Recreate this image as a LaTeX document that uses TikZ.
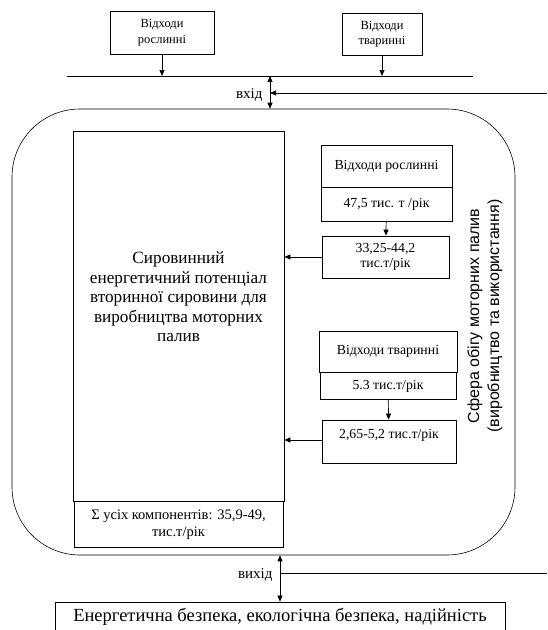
\documentclass[tikz,border=0pt]{standalone}
\usepackage{fontspec}
\setmainfont{Liberation Serif}
\newfontfamily\sphfont{Liberation Sans}
\usetikzlibrary{arrows.meta, positioning}

\begin{document}
\begin{tikzpicture}[
        x=1pt, y=-1pt,
        node distance=0pt,
        srcbox/.style={rectangle, draw, fill=white, align=center, inner sep=0pt,
                       line width=0.8pt, font=\fontsize{12.5}{15.5}\selectfont},
        valbox/.style={rectangle, draw, fill=white, align=center, inner sep=0pt,
                       line width=0.8pt, font=\fontsize{13.8}{15}\selectfont},
        bigbox/.style={rectangle, draw, fill=white, align=center, inner sep=0pt,
                       line width=0.8pt},
        flowlabel/.style={anchor=east, font=\fontsize{15}{17}\selectfont},
        arrow/.style={-{Triangle[length=6pt, width=5pt]}, line width=0.7pt},
        twoway/.style={{Triangle[length=6pt, width=5pt]}-{Triangle[length=6pt, width=5pt]}, line width=0.7pt},
        rail/.style={line width=0.7pt}
    ]
    \useasboundingbox (0,0) rectangle (547,630);

    \node[srcbox, minimum width=104, minimum height=43] (plant) at (162,32.5) {Відходи\\рослинні};
    \node[srcbox, minimum width=80, minimum height=42] (animal) at (382,34) {Відходи\\тваринні};
    \coordinate (railL) at (67,76);
    \coordinate (railR) at (473,76);
    \coordinate (inlet) at (270,76);
    \coordinate (feedin) at (547,93);
    \node[flowlabel] (inlabel) at (266,95) {вхід};

    \node[draw, rounded corners=68pt, line width=0.6pt, minimum width=503,
          minimum height=446, inner sep=0pt] (sphere) at (263.5,332) {};
    \node[bigbox, minimum width=211, minimum height=370, text depth=38pt,
          font=\fontsize{17.2}{19.5}\selectfont] (main) at (178.5,316)
          {Сировинний\\енергетичний потенціал\\вторинної сировини для\\виробництва моторних\\палив};
    \node[bigbox, minimum width=209, minimum height=46, below=0pt of main,
          font=\fontsize{14.5}{16.5}\selectfont] (total) {Σ усіх компонентів: 35,9-49,\\тис.т/рік};

    \node[valbox, minimum width=131, minimum height=42] (plantsrc) at (386.5,166) {Відходи рослинні};
    \node[valbox, minimum width=131, minimum height=34, below=0pt of plantsrc] (plantval) {47,5 тис. т /рік};
    \node[valbox, minimum width=127, minimum height=42] (plantout) at (385.5,257) {33,25-44,2\\тис.т/рік};
    \node[valbox, minimum width=138, minimum height=41] (animalsrc) at (388,351.5) {Відходи тваринні};
    \node[valbox, minimum width=136, minimum height=27, below=0pt of animalsrc] (animalval) {5.3 тис.т/рік};
    \node[valbox, minimum width=134, minimum height=43, text depth=16pt] (animalout) at (389,441.5) {2,65-5,2 тис.т/рік};

    \node[rotate=90, align=center, font=\sphfont\fontsize{16}{20}\selectfont] (sphlabel) at (485,316)
          {Сфера обігу моторних палив\\(виробництво та використання)};

    \node[bigbox, minimum width=450, minimum height=30, font=\fontsize{18.5}{20}\selectfont] (outcome) at (280,617)
          {Енергетична безпека, екологічна безпека, надійність};
    \coordinate (feedout) at (547,573);
    \node[flowlabel] (outlabel) at (276,575) {вихід};

    \draw[arrow] (plant) -- (plant |- railL);
    \draw[arrow] (animal) -- (animal |- railL);
    \draw[rail] (railL) -- (railR);
    \draw[twoway] (inlet) -- (inlet |- sphere.north);
    \draw[arrow] (feedin) -- (feedin -| inlet);
    \draw[arrow] (plantval) -- (plantout);
    \draw[arrow] (plantout.west) -- (plantout.west -| main.east);
    \draw[arrow] (animalval) -- (animalout);
    \draw[arrow] ([yshift=1.5pt]animalout.west) -- ([yshift=1.5pt]animalout.west -| main.east);
    \draw[twoway] (outcome.north |- sphere.south) -- (outcome.north);
    \draw[rail] (outcome.north |- feedout) -- (feedout);
\end{tikzpicture}
\end{document}
